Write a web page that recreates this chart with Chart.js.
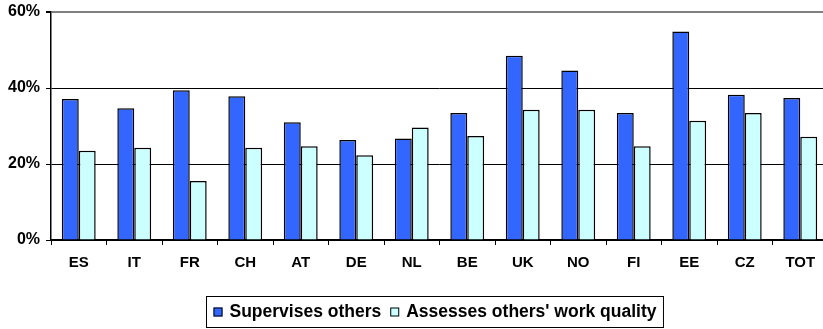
<!DOCTYPE html>
<html>
<head>
<meta charset="utf-8">
<script src="https://cdn.jsdelivr.net/npm/chart.js@4/dist/chart.umd.min.js"></script>
<style>
  html, body { margin: 0; padding: 0; background: #fff; overflow: hidden; }
  #wrap { width: 823px; height: 329px; overflow: hidden; }
</style>
</head>
<body>
<div id="wrap"><canvas id="chart" width="830" height="329"></canvas></div>
<script>
// ---- data ----
const categories = ["ES", "IT", "FR", "CH", "AT", "DE", "NL", "BE", "UK", "NO", "FI", "EE", "CZ", "TOT"];
const supervises = [37.1, 34.7, 39.4, 37.8, 31.0, 26.3, 26.7, 33.4, 48.5, 44.6, 33.4, 54.9, 38.2, 37.4];
const assesses = [23.5, 24.3, 15.5, 24.3, 24.7, 22.3, 29.6, 27.4, 34.3, 34.3, 24.7, 31.4, 33.4, 27.2];
const yTicks = [0, 20, 40, 60];
const seriesNames = ["Supervises others", "Assesses others' work quality"];

const FONT = "'Liberation Sans', Arial, sans-serif";

// legend with a frame, drawn under the plot
const boxedLegend = {
  id: "boxedLegend",
  afterDraw(chart) {
    const ctx = chart.ctx;
    const sets = chart.data.datasets;
    ctx.save();
    ctx.font = "bold 17.5px " + FONT;
    const widths = sets.map((d) => ctx.measureText(d.label).width);
    const pad = 7, sw = 9, gap = 7, itemGap = 9;
    let total = pad * 2 + (sets.length - 1) * itemGap;
    widths.forEach((w) => (total += sw + gap + w));
    const cx = 434.5, top = 296, h = 31;
    let x = Math.round(cx - total / 2) + 0.5;
    ctx.strokeStyle = "#000";
    ctx.lineWidth = 1;
    ctx.strokeRect(x, top + 0.5, total, h);
    x += pad;
    const mid = top + h / 2 + 1;
    sets.forEach((d, i) => {
      ctx.fillStyle = d.backgroundColor;
      ctx.fillRect(x, mid - 5, sw, sw);
      ctx.strokeStyle = "#000";
      ctx.strokeRect(x + 0.5, mid - 4.5, sw - 1, sw - 1);
      x += sw + gap;
      ctx.fillStyle = "#000";
      ctx.textBaseline = "middle";
      ctx.fillText(d.label, x, mid);
      x += widths[i] + itemGap;
    });
    ctx.restore();
  },
};

new Chart(document.getElementById("chart"), {
  type: "bar",
  data: {
    labels: categories,
    datasets: [
      {
        label: seriesNames[0],
        data: supervises,
        backgroundColor: "#3366FF",
        borderColor: "#000",
        borderWidth: 1.5,
      },
      {
        label: seriesNames[1],
        data: assesses,
        backgroundColor: "#CCFFFF",
        borderColor: "#000",
        borderWidth: 1.5,
      },
    ],
  },
  options: {
    responsive: false,
    animation: false,
    devicePixelRatio: 1,
    layout: { padding: { top: 12, right: 2, left: 0, bottom: 0 } },
    datasets: { bar: { categoryPercentage: 0.61, barPercentage: 1 } },
    plugins: { legend: { display: false }, tooltip: { enabled: false } },
    scales: {
      x: {
        afterFit: (s) => { s.height = 89; },
        grid: {
          offset: true,
          drawOnChartArea: false,
          drawTicks: true,
          tickLength: 5,
          color: "#000",
        },
        border: { color: "#000", width: 1.5 },
        ticks: {
          color: "#000",
          padding: 9,
          font: { family: FONT, size: 15, weight: "bold" },
        },
      },
      y: {
        min: 0,
        max: 60,
        afterFit: (s) => { s.width = 51; s.paddingTop = 0; s.paddingBottom = 0; },
        afterBuildTicks: (s) => { s.ticks = yTicks.map((v) => ({ value: v })); },
        grid: {
          color: (c) => (c.tick && c.tick.value === 60 ? "#808080" : "#000"),
          lineWidth: (c) => (c.tick && c.tick.value === 60 ? 2 : 1),
          tickColor: "#000",
          tickLength: 5,
        },
        border: { color: "#000", width: 1.5 },
        ticks: {
          color: "#000",
          padding: 6,
          font: { family: FONT, size: 16, weight: "bold" },
          callback: (v) => v + "%",
        },
      },
    },
  },
  plugins: [boxedLegend],
});
</script>
</body>
</html>
